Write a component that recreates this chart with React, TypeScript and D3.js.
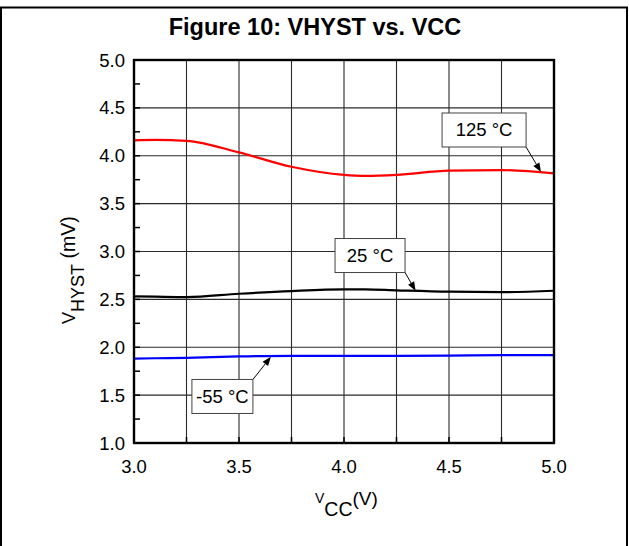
import React from "react";
import * as d3 from "d3";

const vcc = [3.0, 3.1, 3.25, 3.5, 3.75, 4.0, 4.1, 4.25, 4.5, 4.75, 5.0];
const hyst125 = [4.16, 4.165, 4.155, 4.035, 3.885, 3.8, 3.79, 3.8, 3.845, 3.85, 3.815];
const hyst25 = [2.531, 2.528, 2.524, 2.559, 2.587, 2.604, 2.604, 2.594, 2.58, 2.576, 2.59];
const hystM55 = [1.881, 1.885, 1.89, 1.904, 1.91, 1.91, 1.91, 1.91, 1.912, 1.917, 1.917];

const seriesNames = ["125 °C", "25 °C", "-55 °C"];
const seriesColors = ["#ff0000", "#000000", "#0000ff"];

const xTicks = [3.0, 3.5, 4.0, 4.5, 5.0];
const yTicks = [1.0, 1.5, 2.0, 2.5, 3.0, 3.5, 4.0, 4.5, 5.0];

// annotation anchors in data coordinates: box centre and arrow tip
const labelBoxX = [4.667, 4.124, 3.421];
const labelBoxY = [4.269, 2.958, 1.486];
const arrowTipX = [4.938, 4.341, 3.652];
const arrowTipY = [3.83, 2.59, 1.9];
const labelBoxW = [84, 70, 61];

const W = 629;
const H = 546;
const M = { left: 134, right: 554, top: 60, bottom: 443 };

export default function App() {
  const x = d3.scaleLinear().domain([3, 5]).range([M.left, M.right]);
  const y = d3.scaleLinear().domain([1, 5]).range([M.bottom, M.top]);
  const all = [hyst125, hyst25, hystM55];
  const line = d3
    .line<[number, number]>()
    .x((d) => x(d[0]))
    .y((d) => y(d[1]))
    .curve(d3.curveMonotoneX);

  const xGrid = d3.range(3, 5.0001, 0.25);
  const yGrid = d3.range(1, 5.0001, 0.5);
  const yMinor = d3.range(1, 5.0001, 0.25);

  const font = "Liberation Sans, Arial, sans-serif";

  return (
    <svg
      width={W}
      height={H}
      style={{ position: "absolute", left: 0, top: 0, background: "#fff" }}
    >
      <rect x={0} y={0} width={W} height={H} fill="#fff" />
      <rect x={1} y={7.5} width={626} height={580} fill="none" stroke="#000" strokeWidth={2} />
      <text
        x={315}
        y={35}
        textAnchor="middle"
        fontFamily={font}
        fontWeight="bold"
        fontSize={23.5}
      >
        Figure 10: VHYST vs. VCC
      </text>

      {/* grid */}
      {xGrid.map((v, i) => (
        <line key={"xg" + i} x1={x(v)} x2={x(v)} y1={M.top} y2={M.bottom} stroke="#2a2a2a" strokeWidth={1.1} />
      ))}
      {yGrid.map((v, i) => (
        <line key={"yg" + i} x1={M.left} x2={M.right} y1={y(v)} y2={y(v)} stroke="#2a2a2a" strokeWidth={1.1} />
      ))}
      {/* minor ticks */}
      {yMinor.map((v, i) => (
        <line key={"ym" + i} x1={M.left} x2={M.left + 6} y1={y(v)} y2={y(v)} stroke="#000" strokeWidth={1.5} />
      ))}
      {xGrid.map((v, i) => (
        <line key={"xm" + i} x1={x(v)} x2={x(v)} y1={M.bottom} y2={M.bottom - 6} stroke="#000" strokeWidth={1.5} />
      ))}

      {/* curves */}
      {all.map((s, i) => (
        <path
          key={"s" + i}
          d={line(vcc.map((v, j) => [v, s[j]] as [number, number])) || ""}
          fill="none"
          stroke={seriesColors[i]}
          strokeWidth={2.2}
        />
      ))}

      {/* frame */}
      <rect
        x={M.left}
        y={M.top}
        width={M.right - M.left}
        height={M.bottom - M.top}
        fill="none"
        stroke="#000"
        strokeWidth={2.4}
      />

      {/* tick labels */}
      {yTicks.map((v, i) => (
        <text key={"yt" + i} x={M.left - 9} y={y(v) + 6.5} textAnchor="end" fontFamily={font} fontSize={18.5}>
          {v.toFixed(1)}
        </text>
      ))}
      {xTicks.map((v, i) => (
        <text key={"xt" + i} x={x(v)} y={472.5} textAnchor="middle" fontFamily={font} fontSize={18.5}>
          {v.toFixed(1)}
        </text>
      ))}

      {/* axis titles */}
      <text x={315} y={503} fontFamily={font} fontSize={14}>
        V
        <tspan fontSize={19.5} dy={13}>CC</tspan>
        <tspan fontSize={19} dy={-11}>(V)</tspan>
      </text>
      <text transform="translate(75,324) rotate(-90)" fontFamily={font} fontSize={18}>
        V
        <tspan dy={9}>HYST</tspan>
        <tspan dy={-9} fontSize={19.5}> (mV)</tspan>
      </text>

      {/* annotations */}
      {seriesNames.map((name, i) => {
        const cx = x(labelBoxX[i]);
        const cy = y(labelBoxY[i]);
        const bw = labelBoxW[i];
        const bh = 34;
        const tx = x(arrowTipX[i]);
        const ty = y(arrowTipY[i]);
        const sx = tx > cx ? cx + bw / 2 : cx - bw / 2;
        const sy = ty > cy ? cy + bh / 2 : cy - bh / 2;
        const ang = Math.atan2(ty - sy, tx - sx);
        const hl = 9;
        const hw = 3.5;
        const bx = tx - hl * Math.cos(ang);
        const by = ty - hl * Math.sin(ang);
        const px = -Math.sin(ang);
        const py = Math.cos(ang);
        return (
          <g key={"a" + i}>
            <line x1={sx} y1={sy} x2={bx} y2={by} stroke="#000" strokeWidth={1} />
            <path
              d={`M${tx},${ty}L${bx + px * hw},${by + py * hw}L${bx - px * hw},${by - py * hw}Z`}
              fill="#000"
            />
            <rect
              x={cx - bw / 2}
              y={cy - bh / 2}
              width={bw}
              height={bh}
              fill="#fff"
              stroke="#444"
              strokeWidth={1}
            />
            <text x={cx} y={cy + 6.5} textAnchor="middle" fontFamily={font} fontSize={18.5}>
              {name}
            </text>
          </g>
        );
      })}
    </svg>
  );
}
